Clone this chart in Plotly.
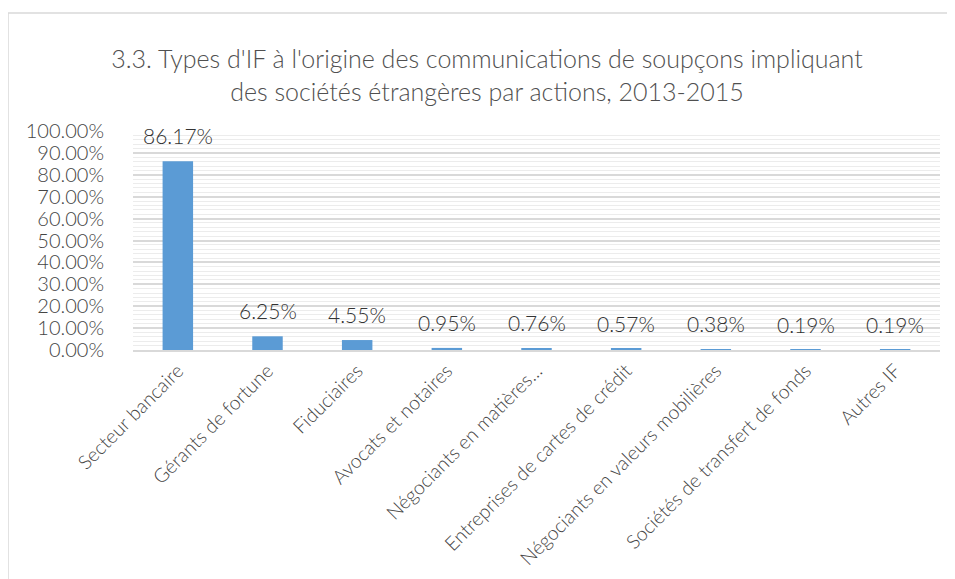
import plotly.graph_objects as go

categories = ["Secteur bancaire", "Gérants de fortune", "Fiduciaires", "Avocats et notaires",
              "Négociants en matières...", "Entreprises de cartes de crédit",
              "Négociants en valeurs mobilières", "Sociétés de transfert de fonds", "Autres IF"]
values = [86.17, 6.25, 4.55, 0.95, 0.76, 0.57, 0.38, 0.19, 0.19]
labels = ["86.17%", "6.25%", "4.55%", "0.95%", "0.76%", "0.57%", "0.38%", "0.19%", "0.19%"]
tick_vals = [0, 10, 20, 30, 40, 50, 60, 70, 80, 90, 100]
tick_text = ["%.2f%%" % v for v in tick_vals]

W, H = 955, 579
OFF = 8  # page body margin
ml, mr, mt, mb = 133 - OFF, 15 + OFF, 131 - OFF, 229 + OFF
pw = W - ml - mr
ph = H - mt - mb

FONT = "Lato"

fig = go.Figure()
fig.add_trace(go.Bar(x=categories, y=values, marker=dict(color="#5B9BD5", line=dict(width=0)),
                     hoverinfo="x+y"))

for c, v, t in zip(categories, values, labels):
    fig.add_annotation(x=c, y=v, text=t, showarrow=False, yanchor="bottom", yshift=11,
                       font=dict(family=FONT, size=21, color="#333333", weight=300))

fig.update_layout(
    width=W, height=H,
    margin=dict(l=ml, r=mr, t=mt, b=mb, autoexpand=False),
    paper_bgcolor="white", plot_bgcolor="white",
    bargap=0.66,
    showlegend=False,
    title=dict(text="3.3. Types d'IF à l'origine des communications de soupçons impliquant<br>des sociétés étrangères par actions, 2013-2015",
               x=(487 - OFF) / W, xanchor="center", xref="container", y=1 - (68 - OFF) / H, yanchor="middle", yref="container",
               font=dict(family=FONT, size=25, color="#505050", weight=300)),
    font=dict(family=FONT, color="#4a4a4a"),
)
fig.update_yaxes(range=[0, 100], tickvals=tick_vals, ticktext=tick_text, automargin=False,
                 tickfont=dict(family=FONT, size=20, color="#454545", weight=300),
                 showgrid=True, gridcolor="#d9d9d9", gridwidth=1.5,
                 minor=dict(dtick=2, showgrid=True, gridcolor="#ececec", gridwidth=1),
                 ticks="outside", ticklen=24, tickcolor="rgba(0,0,0,0)",
                 zeroline=False, fixedrange=True)
fig.update_xaxes(tickangle=-45, automargin=False,
                 tickfont=dict(family=FONT, size=19.5, color="#454545", weight=300),
                 showline=True, linecolor="#d9d9d9", linewidth=1.5,
                 ticks="", fixedrange=True)

# outer chart border
fig.add_shape(type="rect", xref="paper", yref="paper",
              x0=(8 - OFF - ml) / pw, x1=(W + 10 - ml) / pw,
              y0=-(H + 10 - (H - mb)) / ph, y1=((H - mb) - (13 - OFF)) / ph,
              line=dict(color="#d9d9d9", width=1.5), fillcolor="rgba(0,0,0,0)", layer="below")

fig.write_html("out.html")
